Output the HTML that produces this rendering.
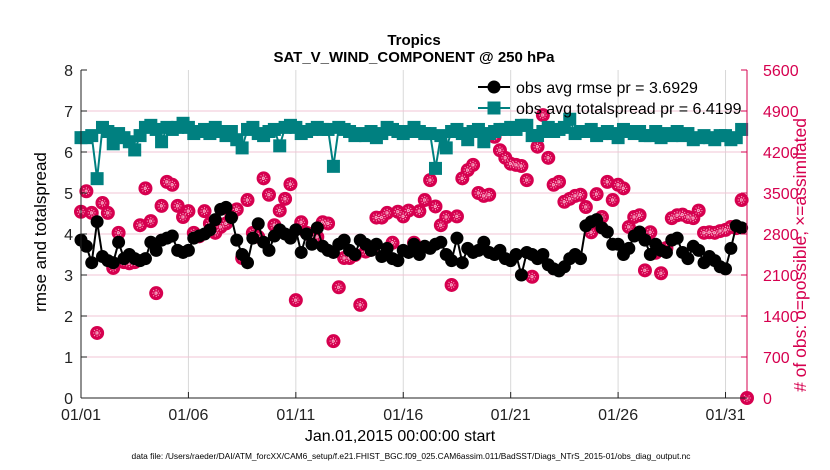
<!DOCTYPE html>
<html><head><meta charset="utf-8"><style>
body{margin:0;background:#fff;}
svg{display:block;font-family:"Liberation Sans",sans-serif;}
</style></head><body>
<svg id="chart" width="830" height="470" viewBox="0 0 830 470" xmlns="http://www.w3.org/2000/svg">
<rect width="830" height="470" fill="#fff"/>
<text x="414" y="45" text-anchor="middle" font-size="15" font-weight="bold">Tropics</text>
<text x="414" y="62" text-anchor="middle" font-size="15" font-weight="bold">SAT_V_WIND_COMPONENT @ 250 hPa</text>
<g id="grid"></g>
<g id="series"></g>
<g id="axes"></g>
<text x="0" y="0" transform="translate(46,232) rotate(-90)" text-anchor="middle" font-size="17">rmse and totalspread</text>
<text x="0" y="0" transform="translate(806,255) rotate(-90)" text-anchor="middle" font-size="17.5" fill="#d6004f"># of obs: o=possible; ×=assimilated</text>
<text x="400" y="441" text-anchor="middle" font-size="16">Jan.01,2015 00:00:00 start</text>
<text x="411" y="459" text-anchor="middle" font-size="8.4">data file: /Users/raeder/DAI/ATM_forcXX/CAM6_setup/f.e21.FHIST_BGC.f09_025.CAM6assim.011/BadSST/Diags_NTrS_2015-01/obs_diag_output.nc</text>
<g id="legend">
 <g>
  <line x1="478" y1="87" x2="510" y2="87" stroke="#000" stroke-width="2"/>
  <circle cx="494" cy="87" r="6.5" fill="#000"/>
  <text x="516" y="93" font-size="16">obs avg rmse pr = 3.6929</text>
 </g>
 <g>
  <line x1="478" y1="108" x2="510" y2="108" stroke="#008080" stroke-width="2"/>
  <rect x="487.5" y="101.5" width="13" height="13" fill="#008080"/>
  <text x="516" y="114" font-size="16">obs avg totalspread pr = 6.4199</text>
 </g>
</g>
</svg>
<script>
const xTickLabels = ["01/01","01/06","01/11","01/16","01/21","01/26","01/31"];
const xTickDays = [0,5,10,15,20,25,30];
const yTicks = [0,1,2,3,4,5,6,7,8];
const y2Ticks = [0,700,1400,2100,2800,3500,4200,4900,5600];
const rmse = [3.85,3.7,3.3,4.3, 3.45,3.35,3.3,3.8, 3.4,3.5,3.4,3.35, 3.4,3.8,3.6,3.85, 3.9,3.95,3.6,3.55, 3.6,3.9,3.95,4.0,
 4.1,4.35,4.6,4.65, 4.4,3.85,3.5,3.3, 3.9,4.25,3.8,3.6, 3.95,4.1,4.0,3.9, 4.1,3.55,4.0,3.75, 4.15,3.7,3.6,3.55,
 3.75,3.85,3.6,3.5, 3.85,3.75,3.6,3.75, 3.45,3.65,3.4,3.35, 3.6,3.55,3.75,3.5, 3.7,3.65,3.75,3.8, 3.5,3.35,3.9,3.3,
 3.65,3.55,3.6,3.8, 3.55,3.5,3.6,3.4, 3.35,3.5,3.0,3.55, 3.5,3.4,3.5,3.25, 3.15,3.1,3.2,3.4, 3.5,3.4,4.2,4.3,
 4.35,4.15,4.05,3.75, 3.75,3.5,3.65,3.95, 4.05,3.85,3.5,3.75, 3.6,3.55,3.85,3.9, 3.55,3.4,3.7,3.6, 3.3,3.45,3.35,3.2,
 3.15,3.65,4.2,4.15, null];
const spread = [6.35,6.35,6.4,5.35, 6.6,6.5,6.2,6.45, 6.35,6.25,6.05,6.4, 6.6,6.65,6.55,6.25, 6.6,6.55,6.6,6.7, 6.6,6.45,6.5,6.55,
 6.45,6.6,6.5,6.4, 6.5,6.3,6.1,6.55, 6.6,6.45,6.4,6.5, 6.55,6.15,6.6,6.65, 6.6,6.45,6.5,6.55, 6.6,6.55,6.55,5.65,
 6.6,6.55,6.5,6.4, 6.45,6.4,6.5,6.35, 6.45,6.6,6.55,6.5, 6.45,6.5,6.6,6.5, 6.45,6.45,5.6,6.4, 6.1,6.5,6.55,6.45,
 6.3,6.5,6.55,6.25, 6.45,6.5,6.55,6.55, 6.6,6.55,6.65,6.65, 6.4,6.4,6.5,6.6, 6.5,6.55,6.6,6.8, 6.45,6.5,6.5,6.55,
 6.4,6.45,6.5,6.45, 6.35,6.55,6.5,6.45, 6.5,6.4,6.4,6.5, 6.35,6.45,6.4,6.5, 6.4,6.45,6.3,6.35, 6.4,6.35,6.3,6.4,
 6.4,6.3,6.35,6.55, null];
const obsPossible = [3180,3530,3160,1110,3330,3160,2220,2820,2320,2300,2320,2950,3580,3020,1790,3280,3690,3640,3280,3090,3190,2820,2760,3190,2980,2820,2920,2980,3100,3220,2390,3380,2820,2750,3750,3470,2950,3200,3400,3650,1670,3000,2820,2750,2750,3000,2980,970,1890,2390,2390,2440,1590,2500,2530,3080,3080,
 3160,2650,3180,3100,3200,2650,3190,3380,3720,3270, 2950,3090,1930,3100,3750,3890,3980,3500,3450,3470, 4460,4230,4100,4000,3980,3960,3720,2070,4290,4830,
 4100,3640,3690,3350,3400,3450,3470,3260,2830, 3480,3090,3690,3380,3640,3580,2920,3090,3120, 2180,2830,2480,2130,2560,3070,3120,3130,3090,3070,
 3200,2820,2830,2820,2850,2870,2920,2900,3380, 0];
const obsAssimilated = obsPossible.slice();

const L=81,R=747,T=70,B=398;
const xs=d=>L+(R-L)*d/31;
const ys=v=>B-(B-T)*v/8;
const y2s=v=>B-(B-T)*v/5600;
const NS="http://www.w3.org/2000/svg";
function mk(tag,attrs,parent){const e=document.createElementNS(NS,tag);for(const k in attrs)e.setAttribute(k,attrs[k]);parent.appendChild(e);return e;}
const grid=document.getElementById('grid'),series=document.getElementById('series'),axes=document.getElementById('axes');
xTickDays.forEach((d,i)=>{
 const g=mk('line',{x1:xs(d),x2:xs(d),y1:T,y2:B,stroke:'#d8d8d8','stroke-width':1},grid);
 
 
 const t=mk('line',{x1:xs(d),x2:xs(d),y1:B,y2:B-6,stroke:'#222','stroke-width':1},axes);
 
 
 const tx=mk('text',{x:xs(d),y:B+22,'text-anchor':'middle','font-size':16,fill:'#222'},axes);
 tx.textContent=xTickLabels[i];
 
 
});
yTicks.forEach(v=>{
 if(v>0&&v<8){const g=mk('line',{x1:L,x2:R,y1:ys(v),y2:ys(v),stroke:'#f2c4d4','stroke-width':1},grid);
 
 }
 const t=mk('line',{x1:L,x2:L+6,y1:ys(v),y2:ys(v),stroke:'#222'},axes);
 
 
 const tx=mk('text',{x:L-8,y:ys(v)+6,'text-anchor':'end','font-size':16,fill:'#222'},axes);
 tx.textContent=v;
 
 
});
y2Ticks.forEach(v=>{
 const t=mk('line',{x1:R-6,x2:R,y1:y2s(v),y2:y2s(v),stroke:'#d6004f'},axes);
 
 
 const tx=mk('text',{x:R+16,y:y2s(v)+6,'font-size':16,fill:'#d6004f'},axes);
 tx.textContent=v;
 
 
});
const ax1=mk('line',{x1:L,x2:L,y1:T,y2:B,stroke:'#222','stroke-width':1},axes);


const ax2=mk('line',{x1:L,x2:R,y1:B,y2:B,stroke:'#222','stroke-width':1},axes);


const ax3=mk('line',{x1:R,x2:R,y1:T,y2:B,stroke:'#d6004f','stroke-width':1},axes);



function linePath(arr){let d='',pen=false;arr.forEach((v,i)=>{if(v==null){pen=false;return;}d+=(pen?'L':'M')+xs(i*0.25).toFixed(1)+','+ys(v).toFixed(1);pen=true;});return d;}
obsPossible.forEach((v,i)=>{
 const c=mk('circle',{cx:xs(i*0.25),cy:y2s(v),r:7,fill:'#d6004f'},series);
 
 
});
obsAssimilated.forEach((v,i)=>{
 const x=xs(i*0.25),y=y2s(v);
 const p=mk('path',{d:`M${x-4},${y}H${x+4}M${x},${y-4}V${y+4}M${x-3},${y-3}L${x+3},${y+3}M${x-3},${y+3}L${x+3},${y-3}`,stroke:'#f7a8c4','stroke-width':1,'stroke-dasharray':'1.2 1'},series);
 
 
});
const sl=mk('path',{d:linePath(spread),fill:'none',stroke:'#008080','stroke-width':2},series);


spread.forEach((v,i)=>{if(v==null)return;
 const r=mk('rect',{x:xs(i*0.25)-6.5,y:ys(v)-6.5,width:13,height:13,fill:'#008080'},series);
 
 
});
const rl=mk('path',{d:linePath(rmse),fill:'none',stroke:'#000','stroke-width':2},series);


rmse.forEach((v,i)=>{if(v==null)return;
 const c=mk('circle',{cx:xs(i*0.25),cy:ys(v),r:6.5,fill:'#000'},series);
 
 
});
</script>
</body></html>
